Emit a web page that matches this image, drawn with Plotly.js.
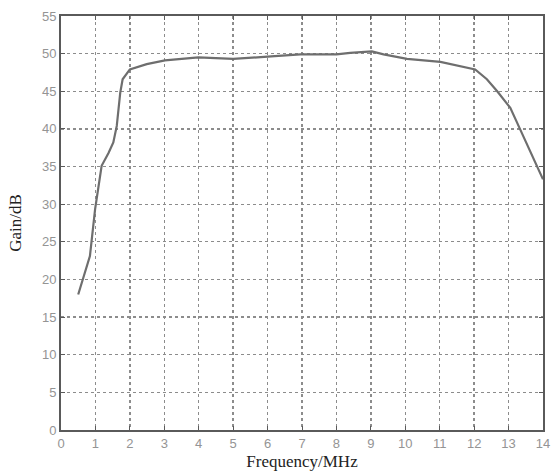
<!DOCTYPE html>
<html>
<head>
<meta charset="utf-8">
<script src="https://cdn.plot.ly/plotly-3.0.1.min.js"></script>
<style>html,body{margin:0;padding:0;background:#fff;}#chart{width:551px;height:474px;}</style>
</head>
<body>
<div id="chart"></div>
<script>
const frequency = [0.5, 0.65, 0.84, 0.99, 1.18, 1.38, 1.52, 1.62, 1.72, 1.79, 2.0, 2.49, 3.02, 3.99, 5.0, 6.0, 6.95, 8.0, 8.4, 9.03, 9.37, 10.05, 11.02, 12.03, 12.37, 12.67, 13.05, 13.34, 13.63, 14.0];
const gain = [18.0, 20.4, 23.1, 29.3, 35.1, 36.8, 38.2, 40.4, 44.8, 46.6, 47.9, 48.6, 49.1, 49.5, 49.3, 49.6, 49.9, 49.9, 50.1, 50.3, 49.9, 49.3, 48.9, 47.9, 46.6, 45.0, 42.8, 39.9, 37.1, 33.3];
const xTicks = [0,1,2,3,4,5,6,7,8,9,10,11,12,13,14];
const yTicks = [0,5,10,15,20,25,30,35,40,45,50,55];

const axisCommon = {
  showline: true, mirror: 'ticks', linecolor: '#5a5a5a', linewidth: 2,
  ticks: 'inside', ticklen: 4, tickcolor: '#5a5a5a',
  showgrid: true, gridcolor: '#8c8c8c', griddash: 'dot', gridwidth: 1.3,
  zeroline: false,
  tickfont: {family: 'Liberation Sans, Arial, sans-serif', size: 13, color: '#949494'}
};

Plotly.newPlot('chart', [{
  x: frequency, y: gain, type: 'scatter', mode: 'lines',
  line: {color: '#6e6e6e', width: 2.2}
}], {
  width: 551, height: 474,
  margin: {l: 61, r: 8, t: 16, b: 44},
  paper_bgcolor: '#fff', plot_bgcolor: '#fff',
  showlegend: false,
  xaxis: Object.assign({}, axisCommon, {
    range: [0, 14], tickvals: xTicks, ticktext: xTicks.map(String),
    title: {text: 'Frequency/MHz', standoff: 6, font: {family: 'Liberation Serif, Times New Roman, serif', size: 17, color: '#222'}}
  }),
  yaxis: Object.assign({}, axisCommon, {
    range: [0, 55], tickvals: yTicks, ticktext: yTicks.map(String),
    title: {text: 'Gain/dB', standoff: 16, font: {family: 'Liberation Serif, Times New Roman, serif', size: 17, color: '#222'}}
  })
}, {staticPlot: true});
</script>
</body>
</html>
